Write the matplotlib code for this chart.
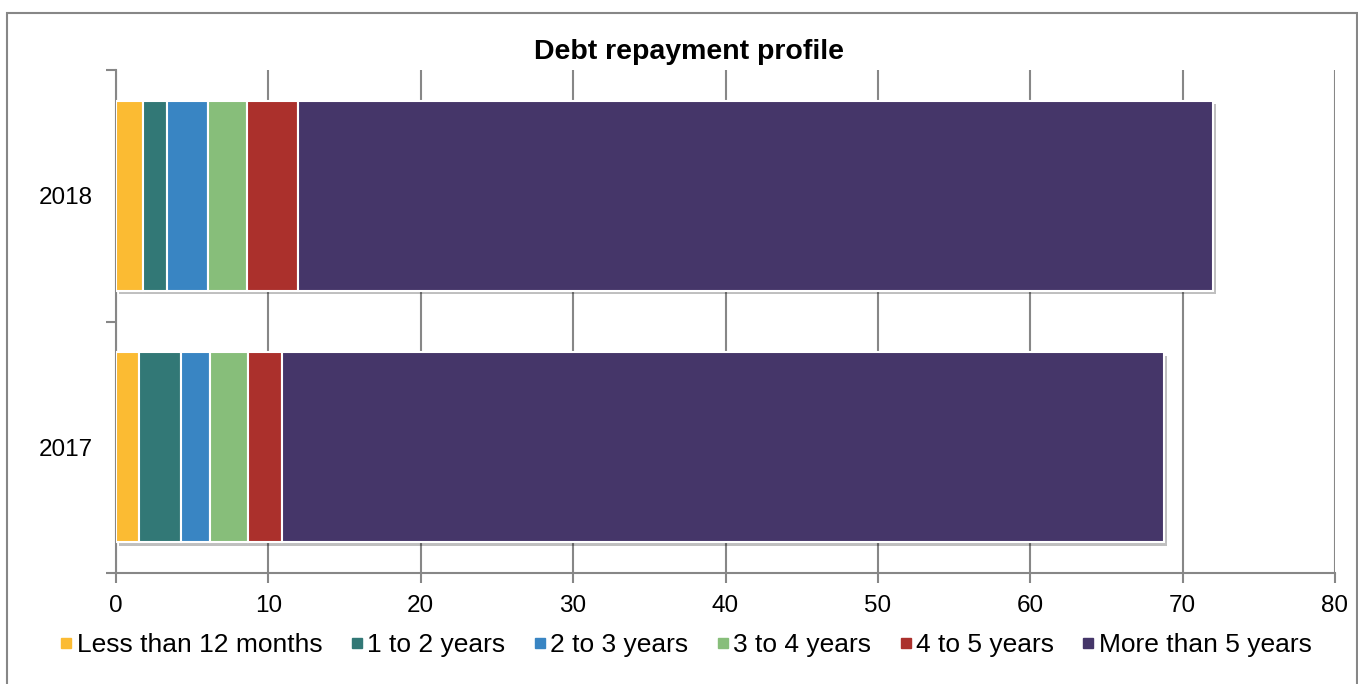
import matplotlib
matplotlib.use("Agg")
import matplotlib.pyplot as plt
from matplotlib.lines import Line2D
from matplotlib.patches import Rectangle
import matplotlib.patheffects as pe

plt.rcParams['font.family'] = ['Liberation Sans', 'DejaVu Sans']

years = ["2017", "2018"]
series_names = ["Less than 12 months", "1 to 2 years", "2 to 3 years",
                "3 to 4 years", "4 to 5 years", "More than 5 years"]
less_12m = [1.51, 1.75]
y1_2 = [2.78, 1.60]
y2_3 = [1.90, 2.71]
y3_4 = [2.50, 2.54]
y4_5 = [2.19, 3.33]
more_5 = [57.89, 60.05]
series = [less_12m, y1_2, y2_3, y3_4, y4_5, more_5]
colors = ["#FBBB33", "#327876", "#3985C3", "#87BE7A", "#AB302C", "#453669"]
x_ticks = [0, 10, 20, 30, 40, 50, 60, 70, 80]

fig = plt.figure(figsize=(13.58, 6.84), dpi=100)
ax = fig.add_axes([116/1358, 1-573/684, (1335-116)/1358, (573-70)/684])

grey = "#878787"
ypos = list(range(len(years)))
left = [0.0]*len(years)
for vals, c, name in zip(series, colors, series_names):
    bars = ax.barh(ypos, vals, left=left, height=0.755, color=c,
                   edgecolor="white", linewidth=1.5, label=name, zorder=3)
    for b in bars:
        b.set_path_effects([pe.SimplePatchShadow(offset=(2.5, -2.5), alpha=0.25, shadow_rgbFace="black"),
                            pe.Normal()])
    left = [l + v for l, v in zip(left, vals)]

ax.set_xlim(0, 80)
ax.set_ylim(-0.5, 1.5)
ax.set_xticks(x_ticks)
ax.set_xticklabels([str(t) for t in x_ticks], fontsize=17.5)
ax.set_yticks([-0.5, 0.5, 1.5])
ax.set_yticklabels([])
ax.set_yticks(ypos, minor=True)
ax.set_yticklabels(years, minor=True, fontsize=17.5)
ax.tick_params(axis='y', which='minor', length=0, pad=17)
ax.tick_params(axis='y', which='major', length=7, color=grey, width=1.5)
ax.tick_params(axis='x', length=7, color=grey, width=1.5, pad=9)
ax.grid(axis='x', color=grey, linewidth=1.5, zorder=0)
ax.set_axisbelow(True)
for s in ["top", "right"]:
    ax.spines[s].set_visible(False)
for s in ["left", "bottom"]:
    ax.spines[s].set_color(grey)
    ax.spines[s].set_linewidth(1.5)

fig.text(0.507, 1-52/684, "Debt repayment profile", ha="center", va="center",
         fontsize=20.5, fontweight="bold")

handles = [Line2D([], [], marker='s', linestyle='none', markersize=7.5,
                  markerfacecolor=c, markeredgecolor=c) for c in colors]
fig.legend(handles, series_names, loc="center", bbox_to_anchor=(0.505, 1-645/684),
           ncol=6, frameon=False, fontsize=19, handlelength=0.5,
           handletextpad=0.15, columnspacing=1.05)

fig.patches.append(Rectangle((7/1358, -0.02), (1357-7)/1358, 1-13/684+0.02,
                             transform=fig.transFigure, fill=False,
                             edgecolor=grey, linewidth=1.5))

fig.savefig("out.png", dpi=100)
